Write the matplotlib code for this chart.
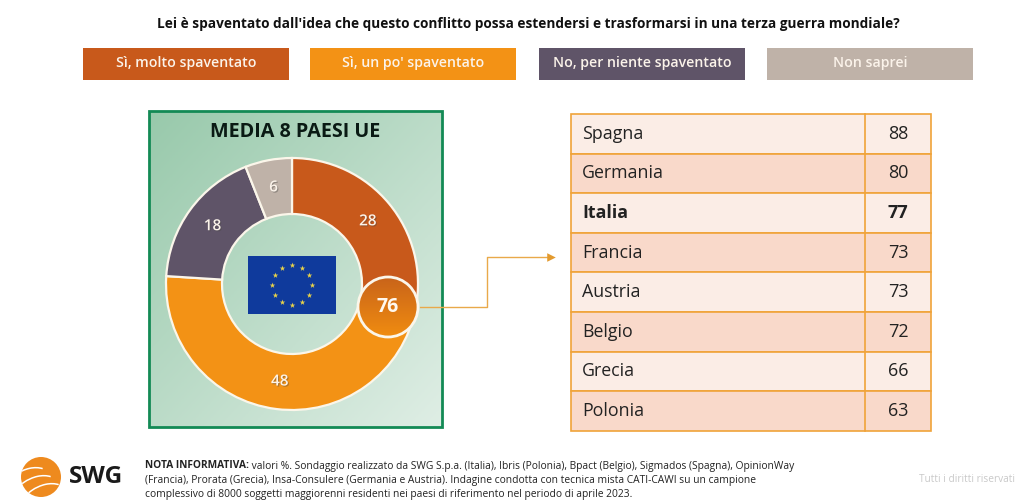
import numpy as np
import matplotlib
matplotlib.use("Agg")
import matplotlib.pyplot as plt
from matplotlib.patches import Rectangle, Circle, Arc
import matplotlib.patheffects as pe

title = "Lei è spaventato dall'idea che questo conflitto possa estendersi e trasformarsi in una terza guerra mondiale?"
answers = ["Sì, molto spaventato", "Sì, un po' spaventato", "No, per niente spaventato", "Non saprei"]
colors = ["#C8591B", "#F39215", "#5F5468", "#BFB2A8"]
media_values = [28, 48, 18, 6]
media_yes = 76
countries = ["Spagna", "Germania", "Italia", "Francia", "Austria", "Belgio", "Grecia", "Polonia"]
country_values = [88, 80, 77, 73, 73, 72, 66, 63]
note_lines = [
    "valori %. Sondaggio realizzato da SWG S.p.a. (Italia), Ibris (Polonia), Bpact (Belgio), Sigmados (Spagna), OpinionWay",
    "(Francia), Prorata (Grecia), Insa-Consulere (Germania e Austria). Indagine condotta con tecnica mista CATI-CAWI su un campione",
    "complessivo di 8000 soggetti maggiorenni residenti nei paesi di riferimento nel periodo di aprile 2023.",
]

plt.rcParams["font.family"] = ["Open Sans", "DejaVu Sans"]

fig = plt.figure(figsize=(10.24, 5.04), dpi=100)
ax = fig.add_axes([0, 0, 1, 1])

# question + legend boxes
ax.text(528, 24, title, ha="center", va="center", fontsize=9.85, fontweight="bold", color="#111111")
box_x = [83, 310, 539, 767]
for x, label, c in zip(box_x, answers, colors):
    ax.add_patch(Rectangle((x, 48), 206, 32, fc=c, ec="none"))
    ax.text(x + 103, 63.5, label, ha="center", va="center", fontsize=10.2, fontweight="semibold", color="#FBF3EA")

# green panel with a diagonal gradient
gx, gy = np.meshgrid(np.linspace(0, 1, 100), np.linspace(0, 1, 100))
ramp = (gx + gy) / 2
c0, c1 = np.array([0x98, 0xC9, 0xAB]), np.array([0xDF, 0xEE, 0xE5])
panel = (c0 + (c1 - c0) * ramp[..., None]) / 255
ax.imshow(panel, extent=(149, 442, 427, 111), aspect="auto", zorder=0)
ax.add_patch(Rectangle((149, 111), 293, 316, fc="none", ec="#138A55", lw=2, zorder=1))
ax.text(295, 132, "MEDIA 8 PAESI UE", ha="center", va="center", fontsize=14.2, fontweight="bold", color="#0A1A14", zorder=2)

# donut, y axis is inverted so counterclock here reads clockwise on screen
wedges, _, autotexts = ax.pie(
    media_values, colors=colors, center=(292, 284), radius=126, startangle=-90, counterclock=True,
    wedgeprops=dict(width=56, edgecolor="#FBF6EA", linewidth=1.6, zorder=3),
    autopct=lambda p: f"{p:.0f}", pctdistance=0.78,
    textprops=dict(color="#FBF3EA", fontsize=11, fontweight="semibold", zorder=4),
)
for t in autotexts:
    t.set_path_effects([pe.withSimplePatchShadow(offset=(0.8, -0.8), alpha=0.4)])

# flag
ax.add_patch(Rectangle((248, 256), 88, 58, fc="#0F3A9C", ec="none", zorder=3))
ang = np.deg2rad(np.arange(0, 360, 30))
ax.scatter(292 + 20 * np.cos(ang), 285 + 20 * np.sin(ang), marker="*", s=18, c="#E8D24A", lw=0, zorder=4)

# 76 bubble
bubble = Circle((388, 307), 30, fc="none", ec="#FBF6EA", lw=2, zorder=6)
img = ax.imshow(np.linspace(0, 1, 50)[:, None], extent=(358, 418, 337, 277), aspect="auto", zorder=5,
                cmap=matplotlib.colors.LinearSegmentedColormap.from_list("b", ["#C9641A", "#F08C10"]))
ax.add_patch(bubble)
img.set_clip_path(bubble)
ax.text(388, 307, str(media_yes), ha="center", va="center", fontsize=14, fontweight="bold", color="#FFF8EE", zorder=7)

# connector
ax.plot([420, 487, 487, 548], [307, 307, 257, 257], color="#E9A94A", lw=1, zorder=2)
ax.scatter([551], [257], marker=">", s=38, c="#E39A2E", lw=0, zorder=2)

# table
tx0, tx1, tx2 = 571, 865, 931
ty0, rh = 114, 39.6
border = "#F0A339"
for i, (name, val) in enumerate(zip(countries, country_values)):
    y = ty0 + i * rh
    ax.add_patch(Rectangle((tx0, y), tx2 - tx0, rh, fc="#FBEDE6" if i % 2 == 0 else "#F9D9CA", ec=border, lw=1.2, zorder=1))
    w = "bold" if name == "Italia" else "normal"
    ax.text(582, y + rh / 2, name, ha="left", va="center", fontsize=12.8, fontweight=w, color="#222222", zorder=2)
    ax.text((tx1 + tx2) / 2, y + rh / 2, str(val), ha="center", va="center", fontsize=13, fontweight=w, color="#222222", zorder=2)
ax.plot([tx1, tx1], [ty0, ty0 + 8 * rh], color=border, lw=1.2, zorder=2)

# logo
globe = Circle((41, 477), 20, fc="#EE8A1E", ec="none", zorder=2)
ax.add_patch(globe)
for dx, dy in [(-14, 14), (-6, 22), (2, 30)]:
    a = Arc((41 + dx, 477 + dy), 58, 40, angle=-35, theta1=200, theta2=340, color="white", lw=1.1, zorder=3)
    ax.add_patch(a)
    a.set_clip_path(globe)
ax.text(69, 477, "SWG", ha="left", va="center", fontsize=17.5, fontweight="bold", color="#1A1A1A")

# footnote
head = ax.text(145, 466, "NOTA INFORMATIVA:", ha="left", va="center", fontsize=7.3, fontweight="bold", color="#222222")
ax.annotate(" " + note_lines[0], xy=(1, 0.5), xycoords=head, ha="left", va="center", fontsize=7.35, color="#222222")
ax.text(145, 481, note_lines[1], ha="left", va="center", fontsize=7.35, color="#222222")
ax.text(145, 495, note_lines[2], ha="left", va="center", fontsize=7.35, color="#222222")
ax.text(1015, 479, "Tutti i diritti riservati", ha="right", va="center", fontsize=7.3, color="#C9C9C9")

ax.set_xlim(0, 1024)
ax.set_ylim(504, 0)
ax.set_aspect("auto")
ax.axis("off")

fig.savefig("out.png", dpi=100)
